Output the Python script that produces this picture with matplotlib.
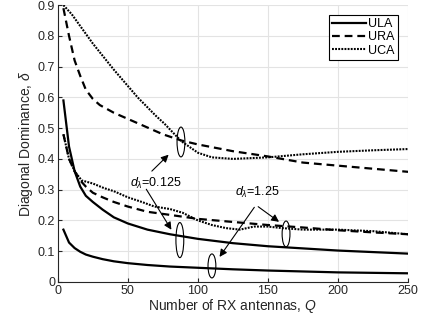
import numpy as np
import matplotlib
matplotlib.use('Agg')
from matplotlib import pyplot as plt
from matplotlib.patches import Ellipse

plt.rcParams['font.family'] = ['Liberation Sans', 'DejaVu Sans']
plt.rcParams['mathtext.fontset'] = 'custom'
plt.rcParams['mathtext.rm'] = 'Liberation Sans'
plt.rcParams['mathtext.it'] = 'Liberation Sans:italic'

# number of RX antennas per curve and the diagonal dominance
q_ula_a = [4, 8, 12, 16, 20, 25, 32, 40, 50, 64, 80, 100, 125, 150, 200, 250]
ula_0125 = [0.17, 0.128, 0.11, 0.098, 0.089, 0.082, 0.074, 0.067, 0.061, 0.055, 0.05, 0.046, 0.041, 0.037, 0.031, 0.028]

q_ula_b = [4, 8, 12, 16, 20, 25, 32, 40, 50, 64, 80, 100, 125, 150, 200, 250]
ula_125 = [0.59, 0.44, 0.36, 0.31, 0.28, 0.26, 0.235, 0.21, 0.19, 0.17, 0.155, 0.14, 0.126, 0.116, 0.102, 0.092]

q_ura_a = [4, 8, 12, 16, 20, 25, 30, 40, 50, 60, 75, 88, 100, 125, 150, 175, 200, 225, 250]
ura_0125 = [0.89, 0.8, 0.72, 0.67, 0.625, 0.595, 0.575, 0.55, 0.53, 0.51, 0.48, 0.46, 0.447, 0.425, 0.408, 0.388, 0.378, 0.368, 0.358]

q_ura_b = [4, 8, 12, 16, 20, 25, 32, 40, 50, 64, 80, 100, 125, 150, 175, 200, 225, 250]
ura_125 = [0.48, 0.4, 0.36, 0.33, 0.31, 0.29, 0.275, 0.26, 0.245, 0.228, 0.218, 0.205, 0.195, 0.185, 0.177, 0.168, 0.161, 0.155]

q_uca_a = [4, 10, 25, 40, 57, 70, 76, 88, 100, 110, 125, 150, 175, 200, 225, 250]
uca_0125 = [0.9, 0.87, 0.775, 0.69, 0.6, 0.54, 0.515, 0.458, 0.42, 0.405, 0.4, 0.405, 0.415, 0.423, 0.428, 0.432]

q_uca_b = [4, 8, 12, 17, 25, 33, 40, 50, 60, 69, 80, 89, 100, 110, 120, 130, 140, 150, 160, 175, 200, 225, 250]
uca_125 = [0.48, 0.4, 0.36, 0.33, 0.32, 0.305, 0.295, 0.275, 0.26, 0.245, 0.237, 0.225, 0.2, 0.185, 0.175, 0.17, 0.18, 0.18, 0.175, 0.17, 0.17, 0.165, 0.155]

fig = plt.figure(figsize=(4.22, 3.2), dpi=100)
ax = fig.add_axes([0.137, 0.119, 0.83, 0.865])

dash = (0, (3.5, 2.2))
dot = (0, (0.9, 0.6))
ax.plot(q_ula_b, ula_125, color='black', lw=1.6, label='ULA')
ax.plot(q_ura_a, ura_0125, color='black', lw=1.6, linestyle=dash, label='URA')
ax.plot(q_uca_a, uca_0125, color='black', lw=1.5, linestyle=dot, label='UCA')
ax.plot(q_ula_a, ula_0125, color='black', lw=1.6)
ax.plot(q_ura_b, ura_125, color='black', lw=1.6, linestyle=dash)
ax.plot(q_uca_b, uca_125, color='black', lw=1.5, linestyle=dot)

ax.set_xlim(0, 250)
ax.set_ylim(0, 0.9)
ax.set_xticks([0, 50, 100, 150, 200, 250])
ax.set_yticks(np.arange(0, 0.91, 0.1))
ax.set_yticklabels(['0', '0.1', '0.2', '0.3', '0.4', '0.5', '0.6', '0.7', '0.8', '0.9'])
ax.grid(True, color='#e3e3e3', lw=0.8)
ax.set_axisbelow(True)
for s in ['top', 'right']:
    ax.spines[s].set_visible(False)
for s in ['left', 'bottom']:
    ax.spines[s].set_color('#262626')
    ax.spines[s].set_linewidth(0.8)
ax.tick_params(direction='in', length=3, labelsize=9, colors='#262626', pad=2)
ax.set_xlabel('Number of RX antennas, $Q$', fontsize=10, labelpad=0, color='#262626')
ax.set_ylabel('Diagonal Dominance, $\\delta$', fontsize=10, labelpad=2, color='#262626')

# ellipses marking curve pairs
for cx, cy, h in [(87.9, 0.455, 0.097), (87.1, 0.136, 0.114), (110, 0.052, 0.078), (162.9, 0.156, 0.084)]:
    ax.add_patch(Ellipse((cx, cy), 5.6, h, fill=False, edgecolor='black', lw=0.8))

arr = dict(arrowstyle='-|>', color='black', lw=0.8, mutation_scale=11)
ax.text(51.4, 0.309, '$d_{\\lambda}$=0.125', fontsize=9)
ax.annotate('', xy=(80.5, 0.42), xytext=(65.7, 0.354), arrowprops=arr)
ax.annotate('', xy=(82.1, 0.162), xytext=(62.1, 0.309), arrowprops=arr)
ax.text(126.4, 0.279, '$d_{\\lambda}$=1.25', fontsize=9)
ax.annotate('', xy=(159.5, 0.19), xytext=(141.4, 0.25), arrowprops=arr)
ax.annotate('', xy=(114.3, 0.074), xytext=(141.4, 0.25), arrowprops=arr)

leg = ax.legend(loc='upper right', fontsize=9, handlelength=2.7, handletextpad=0.2,
                labelspacing=0.1, borderpad=0.25, fancybox=False, framealpha=1,
                borderaxespad=0.8)
leg.get_frame().set_edgecolor('black')
leg.get_frame().set_linewidth(0.8)

fig.savefig('out.png', dpi=100)
